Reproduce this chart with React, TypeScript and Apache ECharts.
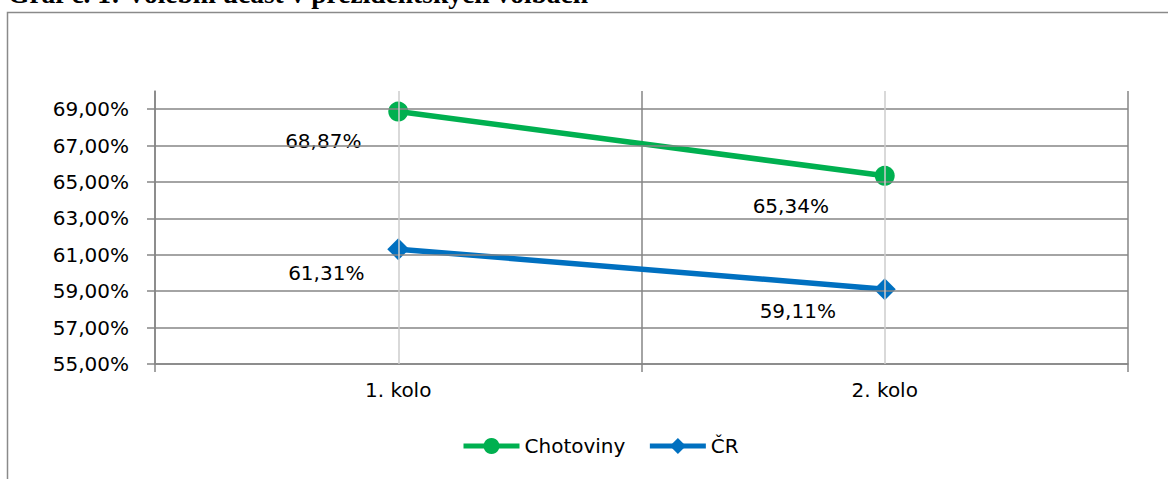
import React, { useEffect, useRef } from "react";
import * as echarts from "echarts";

const titleText = "Graf č. 1: Volební účast v prezidentských volbách";
const categories = ["1. kolo", "2. kolo"];
const chotoviny = [68.87, 65.34];
const cr = [61.31, 59.11];
const seriesNames = ["Chotoviny", "ČR"];
const yTicks = [55, 57, 59, 61, 63, 65, 67, 69];
const yMin = 55;
const yMax = 70;

const labelOffsetsA = [[-75, 29], [-94, 30]];
const labelOffsetsB = [[-72, 24], [-87, 22]];

const FONT = "DejaVu Sans";
const fmt = (v: number) => v.toFixed(2).replace(".", ",") + "%";

export default function App() {
  const ref = useRef<HTMLDivElement>(null);
  useEffect(() => {
    if (!ref.current) return;
    const chart = echarts.init(ref.current, null, { renderer: "svg" });
    const mkData = (vals: number[], offs: number[][]) =>
      vals.map((v, i) => ({
        value: v,
        label: { offset: offs[i] },
      }));
    chart.setOption({
      animation: false,
      backgroundColor: "#ffffff",
      graphic: [
        {
          type: "rect",
          shape: { x: 7.5, y: 12.5, width: 1200, height: 500 },
          style: { fill: "none", stroke: "#8a8a8a", lineWidth: 1.5 },
          silent: true,
        },
        {
          type: "text",
          x: 8,
          y: -7,
          style: {
            text: titleText,
            font: 'bold 27.5px "Liberation Serif"',
            fill: "#000",
            verticalAlign: "middle",
            align: "left",
          },
          silent: true,
        },
      ],
      grid: { left: 155, right: 40, top: 91, bottom: 115 },
      legend: {
        data: seriesNames,
        bottom: 18,
        left: 456,
        itemWidth: 56,
        itemHeight: 20,
        itemGap: 22,
        lineStyle: { width: 5 },
        textStyle: { fontFamily: FONT, fontSize: 20, color: "#000" },
      },
      xAxis: {
        type: "category",
        data: categories,
        boundaryGap: true,
        axisLine: { show: true, lineStyle: { color: "#868686", width: 1.5 } },
        axisTick: { show: true, length: 8, lineStyle: { color: "#868686", width: 1.5 } },
        splitLine: { show: true, lineStyle: { color: "#868686", width: 1.5 } },
        axisLabel: { fontFamily: FONT, fontSize: 20, color: "#000", margin: 16 },
      },
      yAxis: {
        type: "value",
        min: yMin,
        max: yMax,
        interval: 1,
        axisLine: { show: true, lineStyle: { color: "#868686", width: 1.5 } },
        axisTick: {
          show: true,
          length: 8,
          customValues: yTicks,
          lineStyle: { color: "#868686", width: 1.5 },
        },
        splitLine: { show: false },
        axisLabel: {
          customValues: yTicks,
          fontFamily: FONT,
          fontSize: 20,
          color: "#000",
          margin: 26,
          formatter: (v: number) => fmt(v),
        },
      },
      series: [
        {
          name: "grid",
          type: "line",
          data: [],
          z: 0,
          silent: true,
          markLine: {
            silent: true,
            symbol: "none",
            label: { show: false },
            animation: false,
            data: [
              ...yTicks.map((t) => ({
                yAxis: t,
                lineStyle: { color: "#868686", width: 1.5, type: "solid" },
              })),
              ...categories.map((c) => ({
                xAxis: c,
                lineStyle: { color: "#cccccc", width: 1.5, type: "solid" },
              })),
            ],
          },
        },
        {
          name: seriesNames[0],
          type: "line",
          data: mkData(chotoviny, labelOffsetsA),
          symbol: "circle",
          symbolSize: 20,
          z: 3,
          itemStyle: { color: "#00b050" },
          lineStyle: { color: "#00b050", width: 5.5 },
          label: {
            show: true,
            position: "inside",
            fontFamily: FONT,
            fontSize: 20,
            color: "#000",
            formatter: (p: any) => fmt(p.value),
          },
        },
        {
          name: seriesNames[1],
          type: "line",
          data: mkData(cr, labelOffsetsB),
          symbol: "diamond",
          symbolSize: 22,
          z: 3,
          itemStyle: { color: "#0070c0" },
          lineStyle: { color: "#0070c0", width: 5.5 },
          label: {
            show: true,
            position: "inside",
            fontFamily: FONT,
            fontSize: 20,
            color: "#000",
            formatter: (p: any) => fmt(p.value),
          },
        },
      ],
    });
    return () => chart.dispose();
  }, []);
  return (
    <div
      ref={ref}
      style={{ position: "absolute", left: 0, top: 0, width: 1168, height: 479 }}
    />
  );
}
